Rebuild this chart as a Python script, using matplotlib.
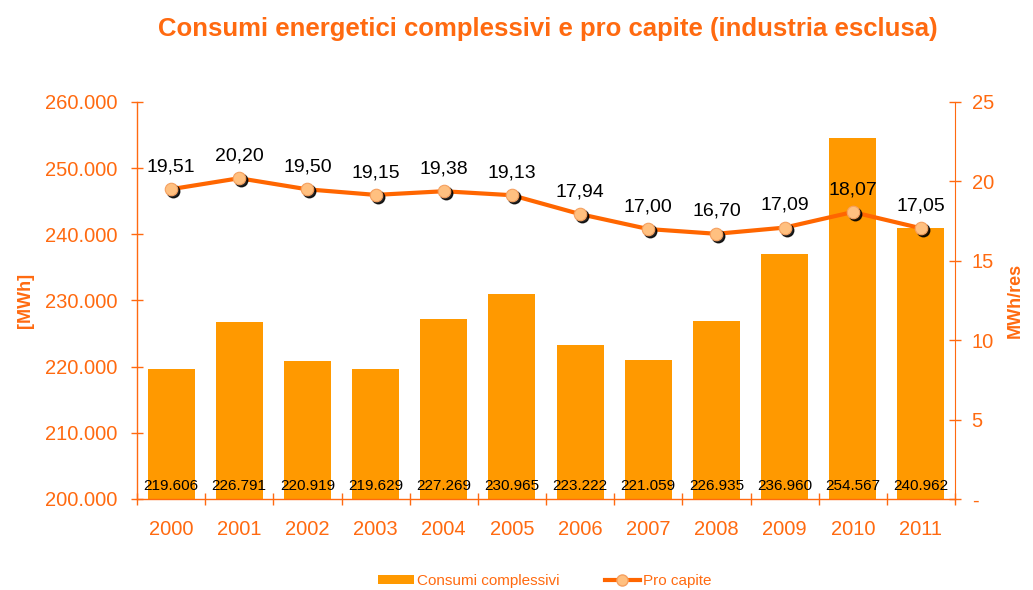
import matplotlib
matplotlib.use("Agg")
import matplotlib.pyplot as plt
import matplotlib.transforms as mtransforms
from matplotlib.lines import Line2D
from matplotlib.patches import Patch
import numpy as np

plt.rcParams['font.family'] = ['Liberation Sans', 'DejaVu Sans']

years = ['2000', '2001', '2002', '2003', '2004', '2005', '2006', '2007', '2008', '2009', '2010', '2011']
consumi = [219606, 226791, 220919, 219629, 227269, 230965, 223222, 221059, 226935, 236960, 254567, 240962]
procapite = [19.51, 20.20, 19.50, 19.15, 19.38, 19.13, 17.94, 17.00, 16.70, 17.09, 18.07, 17.05]
left_ticks = [200000, 210000, 220000, 230000, 240000, 250000, 260000]
right_ticks = [0, 5, 10, 15, 20, 25]

ORANGE = '#FF6A10'
BAR = '#FF9900'
LINE = '#FF6600'

fig = plt.figure(figsize=(10.33, 5.9), dpi=100)
ax = fig.add_axes([137/1033, 1-499/590, (955-137)/1033, (499-102)/590])
x = np.arange(len(years))
ax.bar(x, consumi, width=0.69, color=BAR, zorder=2)
ax.set_xlim(-0.5, len(years)-0.5)
ax.set_ylim(200000, 260000)
ax.set_yticks(left_ticks)
ax.set_yticklabels([f"{v:,}".replace(',', '.') for v in left_ticks])
ax.set_xticks(x)
ax.set_xticklabels(years)
ax.set_xticks(np.arange(len(years)+1)-0.5, minor=True)
ax.tick_params(axis='x', which='major', length=0, pad=15, labelsize=14.5, labelcolor=ORANGE)
ax.tick_params(axis='x', which='minor', direction='inout', length=8, color=ORANGE, width=1)
ax.tick_params(axis='y', direction='inout', length=8, color=ORANGE, width=1, pad=10,
               labelsize=14.5, labelcolor=ORANGE)
for s in ['top', 'right']:
    ax.spines[s].set_visible(False)
for s in ['left', 'bottom']:
    ax.spines[s].set_color(ORANGE)
    ax.spines[s].set_linewidth(1)
ax.set_ylabel('[MWh]', color=ORANGE, fontsize=13, fontweight='bold', labelpad=8)

for xi, v in zip(x, consumi):
    ax.annotate(f"{v:,}".replace(',', '.'), xy=(xi, 200000), xytext=(0, 4),
                textcoords='offset points', ha='center', va='bottom', fontsize=11,
                color='black', zorder=5)

ax2 = ax.twinx()
ax2.set_ylim(0, 25)
ax2.set_yticks(right_ticks)
ax2.set_yticklabels(['-' if v == 0 else str(v) for v in right_ticks])
ax2.tick_params(axis='y', direction='inout', length=8, color=ORANGE, width=1, pad=8,
                labelsize=14.5, labelcolor=ORANGE)
for s in ['top', 'left', 'bottom']:
    ax2.spines[s].set_visible(False)
ax2.spines['right'].set_color(ORANGE)
ax2.set_ylabel('MWh/res', color=ORANGE, fontsize=13, fontweight='bold', labelpad=9)

ax2.plot(x, procapite, color=LINE, lw=3, zorder=3)
shadow = mtransforms.offset_copy(ax2.transData, fig=fig, x=2, y=-2, units='dots')
ax2.plot(x, procapite, 'o', color='black', markersize=9, transform=shadow, zorder=4, alpha=0.85)
ax2.plot(x, procapite, 'o', markerfacecolor='#FFC080', markeredgecolor='#F5A060',
         markeredgewidth=0.8, markersize=9, zorder=5, linestyle='none')
for xi, v in zip(x, procapite):
    ax2.annotate(f"{v:.2f}".replace('.', ','), xy=(xi, v), xytext=(0, 10),
                 textcoords='offset points', ha='center', va='bottom', fontsize=14,
                 color='black', zorder=6)

fig.text(548/1033, 1-29/590, 'Consumi energetici complessivi e pro capite (industria esclusa)',
         ha='center', va='center', fontsize=18.5, fontweight='bold', color=ORANGE)

handles = [Patch(facecolor=BAR, edgecolor='none'),
           Line2D([0], [0], color=LINE, lw=3, marker='o', markerfacecolor='#FFC080',
                  markeredgecolor='#F5A060', markersize=8)]
fig.legend(handles, ['Consumi complessivi', 'Pro capite'], loc='center',
           bbox_to_anchor=(545/1033, 9/590), ncol=2, frameon=False, fontsize=11,
           labelcolor=ORANGE, handlelength=2.3, handletextpad=0.2, columnspacing=3,
           handleheight=0.6)

fig.savefig('out.png', dpi=100)
